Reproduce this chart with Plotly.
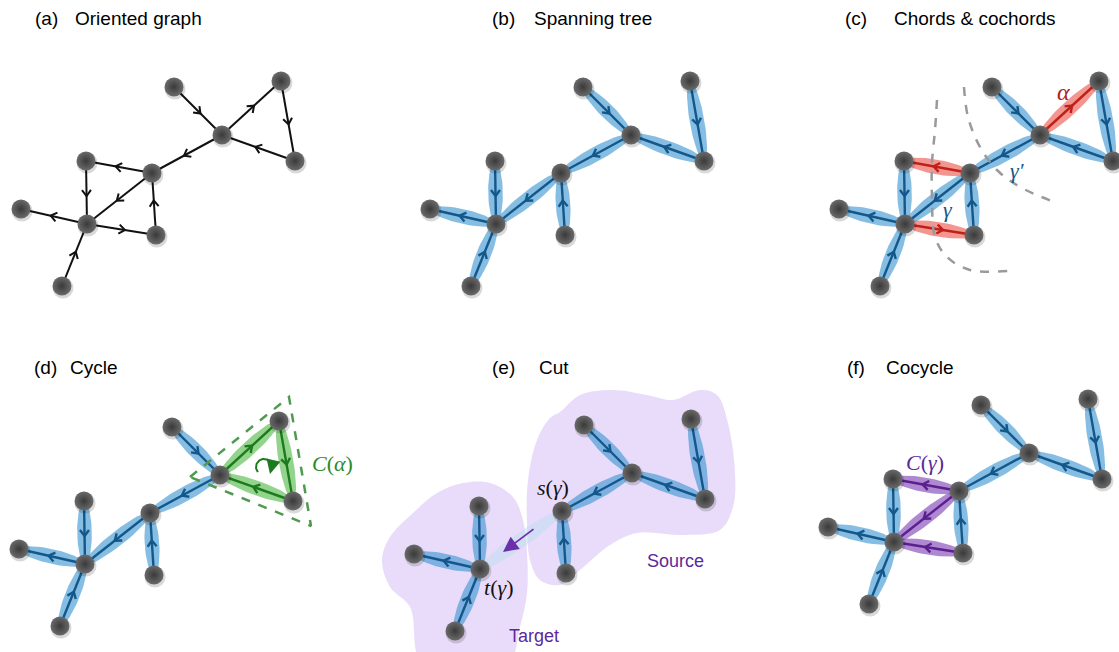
import numpy as np
import plotly.graph_objects as go

# ---------------- data ----------------
# base node positions (panel a, pixels)
NODE_X = [174, 281, 295, 222, 152, 86, 156, 87, 21, 62]
NODE_Y = [87, 81, 161, 135, 173, 161, 235, 224, 209, 286]
# oriented edges (source -> target)
EDGE_SRC = [0, 3, 1, 2, 3, 4, 5, 6, 7, 4, 7, 9]
EDGE_DST = [3, 1, 2, 3, 4, 5, 7, 4, 6, 7, 8, 7]

PANEL_DX = [0, 409, 818, -2, 410, 807]
PANEL_DY = [0, 0, 0, 340, 338, 318]
TITLE_TAGS = ["(a)", "(b)", "(c)", "(d)", "(e)", "(f)"]
TITLE_NAMES = ["Oriented graph", "Spanning tree", "Chords &amp; cochords", "Cycle", "Cut", "Cocycle"]
TAG_X = [33, 490, 843, 32, 490, 845]
NAME_X = [73, 532, 892, 68, 537, 884]
TITLE_Y = [18, 18, 18, 367, 367, 367]

# edge style per panel: k black, b tree, r chord, g cycle, p cocycle, f faded cut edge, '' hidden, '-' reversed
STYLE_A = ["k"] * 12
STYLE_B = ["b", "", "b", "b", "b", "", "b", "b", "", "b", "b", "b"]
STYLE_C = ["b", "r", "b", "b", "b", "r", "b", "b", "r", "b", "b", "b"]
STYLE_D = ["b", "g", "g", "g", "b", "", "b", "b", "", "b", "b", "b"]
STYLE_E = ["b", "", "b", "b", "b", "", "b", "b", "", "f", "b", "b"]
STYLE_F = ["b", "", "b", "b", "b", "p", "b", "b", "p-", "p", "b", "b"]
PANEL_STYLES = [STYLE_A, STYLE_B, STYLE_C, STYLE_D, STYLE_E, STYLE_F]

# panel (e): target component is displaced
E_TARGET_NODES = [5, 7, 8, 9]
E_TARGET_SHIFT = (-17, 7)

# decorations
CUT_ARC1_X = [937, 935, 932, 932, 935, 947, 970, 1008]
CUT_ARC1_Y = [100, 130, 163, 197, 237, 257, 270, 271]
CUT_ARC2_X = [964, 968, 980, 997, 1020, 1057]
CUT_ARC2_Y = [87, 117, 147, 170, 187, 203]
TRI_X = [190, 289, 311, 190]
TRI_Y = [477, 397, 526, 477]
SRC_BLOB_X = [560, 580, 613, 647, 673, 700, 717, 728, 735, 733, 720, 680, 637, 610, 580, 560, 540, 530, 527, 528, 537, 550, 560]
SRC_BLOB_Y = [412, 395, 390, 395, 400, 390, 395, 423, 473, 507, 530, 535, 533, 545, 570, 585, 580, 560, 523, 480, 440, 418, 412]
TGT_BLOB_X = [463, 490, 513, 523, 527, 527, 520, 507, 423, 410, 390, 382, 390, 413, 437, 463]
TGT_BLOB_Y = [483, 483, 497, 520, 553, 593, 627, 665, 665, 607, 587, 560, 537, 513, 493, 483]

COLORS = {
    "b": ("rgba(60,150,210,0.62)", "#14578a"),
    "r": ("rgba(235,85,75,0.62)", "#c0201a"),
    "g": ("rgba(80,185,70,0.62)", "#1e7a1e"),
    "p": ("rgba(125,65,180,0.62)", "#5b1f8f"),
    "f": ("rgba(185,220,240,0.45)", None),
    "k": (None, "#111111"),
}

fig = go.Figure()


def panel_nodes(i):
    xs = [x + PANEL_DX[i] for x in NODE_X]
    ys = [y + PANEL_DY[i] for y in NODE_Y]
    if i == 4:
        for n in E_TARGET_NODES:
            xs[n] += E_TARGET_SHIFT[0]
            ys[n] += E_TARGET_SHIFT[1]
    return xs, ys


def add_ellipse(p, q, fill, w=7.3):
    p, q = np.array(p, float), np.array(q, float)
    m = (p + q) / 2
    d = q - p
    L = np.linalg.norm(d)
    d /= L
    nrm = np.array([-d[1], d[0]])
    t = np.linspace(0, 2 * np.pi, 60)
    pts = m[None, :] + np.outer(np.cos(t) * (L / 2), d) + np.outer(np.sin(t) * w, nrm)
    fig.add_trace(go.Scatter(x=pts[:, 0], y=pts[:, 1], mode="lines", fill="toself",
                             fillcolor=fill, line=dict(width=0), hoverinfo="skip"))


def add_edge_line(p, q, color, width):
    p, q = np.array(p, float), np.array(q, float)
    m = (p + q) / 2
    d = q - p
    d /= np.linalg.norm(d)
    nrm = np.array([-d[1], d[0]])
    tip = m + d * 3.5
    w1 = tip - d * 6 + nrm * 4.5
    w2 = tip - d * 6 - nrm * 4.5
    fig.add_trace(go.Scatter(x=[p[0], q[0], None, w1[0], tip[0], w2[0]],
                             y=[p[1], q[1], None, w1[1], tip[1], w2[1]],
                             mode="lines", line=dict(color=color, width=width),
                             hoverinfo="skip"))


# blobs for the cut panel (drawn first)
for bx, by in [(SRC_BLOB_X, SRC_BLOB_Y), (TGT_BLOB_X, TGT_BLOB_Y)]:
    fig.add_trace(go.Scatter(x=bx, y=by, mode="lines", line_shape="spline",
                             fill="toself", fillcolor="rgba(225,208,248,0.75)", line=dict(width=0),
                             hoverinfo="skip"))

for i, styles in enumerate(PANEL_STYLES):
    xs, ys = panel_nodes(i)
    for e, st in enumerate(styles):
        if not st:
            continue
        s, t = EDGE_SRC[e], EDGE_DST[e]
        if st.endswith("-"):
            s, t = t, s
        fill, line = COLORS[st[0]]
        if fill:
            add_ellipse((xs[s], ys[s]), (xs[t], ys[t]), fill)
    for e, st in enumerate(styles):
        if not st:
            continue
        s, t = EDGE_SRC[e], EDGE_DST[e]
        if st.endswith("-"):
            s, t = t, s
        fill, line = COLORS[st[0]]
        if line:
            add_edge_line((xs[s], ys[s]), (xs[t], ys[t]), line, 2.0 if st[0] == "k" else 2.4)

# dashed cut arcs (c) and dashed triangle (d)
for ax_, ay_ in [(CUT_ARC1_X, CUT_ARC1_Y), (CUT_ARC2_X, CUT_ARC2_Y)]:
    fig.add_trace(go.Scatter(x=ax_, y=ay_, mode="lines", line_shape="spline",
                             line=dict(color="#9a9a9a", width=2.5, dash="dash"), hoverinfo="skip"))
fig.add_trace(go.Scatter(x=TRI_X, y=TRI_Y, mode="lines",
                         line=dict(color="#4f9a4f", width=2.5, dash="dash"), hoverinfo="skip"))

# circular orientation arrow (d)
CIRC_C = (264, 467)
CIRC_R = 8
th = np.radians(np.linspace(140, 355, 40))
fig.add_trace(go.Scatter(x=CIRC_C[0] + CIRC_R * np.cos(th), y=CIRC_C[1] + CIRC_R * np.sin(th),
                         mode="lines", line=dict(color="#1e7a1e", width=2),
                         hoverinfo="skip"))

# nodes
for i in range(6):
    xs, ys = panel_nodes(i)
    fig.add_trace(go.Scatter(x=[x + 1 for x in xs], y=[y + 2 for y in ys], mode="markers",
                             marker=dict(size=21, color="rgba(0,0,0,0.15)", line=dict(width=0)),
                             hoverinfo="skip"))
    fig.add_trace(go.Scatter(x=xs, y=ys, mode="markers",
                             marker=dict(size=19, color="#6a6a6a",
                                         gradient=dict(type="radial", color="#3a3a3a"),
                                         line=dict(width=0)),
                             hoverinfo="skip"))

ann = []
for i in range(6):
    ann.append(dict(x=TAG_X[i], y=TITLE_Y[i], text=TITLE_TAGS[i], xanchor="left", yanchor="middle",
                    showarrow=False, font=dict(size=19, color="black")))
    ann.append(dict(x=NAME_X[i], y=TITLE_Y[i], text=TITLE_NAMES[i], xanchor="left", yanchor="middle",
                    showarrow=False, font=dict(size=19, color="black")))

SERIF = "Liberation Serif, DejaVu Serif, serif"
LABEL_TEXT = ["<i>α</i>", "<i>γ</i>", "<i>γ′</i>", "<i>C</i>(<i>α</i>)", "<i>C</i>(<i>γ</i>)",
              "<i>s</i>(<i>γ</i>)", "<i>t</i>(<i>γ</i>)"]
LABEL_X = [1063, 948, 1017, 332, 925, 553, 498]
LABEL_Y = [92, 209, 170, 463, 462, 487, 587]
LABEL_SIZE = [24, 22, 22, 22, 22, 22, 22]
LABEL_COLOR = ["#b02020", "#14578a", "#14578a", "#2a8a2a", "#5b2a9a", "#111111", "#111111"]
for t, x, y, sz, c in zip(LABEL_TEXT, LABEL_X, LABEL_Y, LABEL_SIZE, LABEL_COLOR):
    ann.append(dict(x=x, y=y, text=t, showarrow=False, font=dict(size=sz, color=c, family=SERIF)))

ann.append(dict(x=675, y=561, text="Source", showarrow=False, font=dict(size=18, color="#5b2a9a")))
ann.append(dict(x=534, y=636, text="Target", showarrow=False, font=dict(size=18, color="#5b2a9a")))

# purple arrow across the cut (e)
ann.append(dict(x=503, y=552, ax=535, ay=528, axref="x", ayref="y", xref="x", yref="y",
                showarrow=True, arrowhead=2, arrowsize=1.7, arrowwidth=1.8, arrowcolor="#6b2fa8",
                text=""))
# head of circular arrow (d)
ann.append(dict(x=270, y=474, ax=272, ay=466, axref="x", ayref="y", xref="x", yref="y",
                showarrow=True, arrowhead=2, arrowsize=1.3, arrowwidth=2.2, arrowcolor="#1e7a1e",
                text=""))

fig.update_layout(
    width=1119, height=652, margin=dict(l=0, r=0, t=0, b=0),
    paper_bgcolor="white", plot_bgcolor="white", showlegend=False,
    font=dict(family="Liberation Sans, Arial, sans-serif"),
    annotations=ann,
    xaxis=dict(range=[0, 1119], visible=False, fixedrange=True),
    yaxis=dict(range=[652, 0], visible=False, fixedrange=True),
)
fig.write_html("out.html", post_script="document.body.style.margin='0';",
               config={"displayModeBar": False})
